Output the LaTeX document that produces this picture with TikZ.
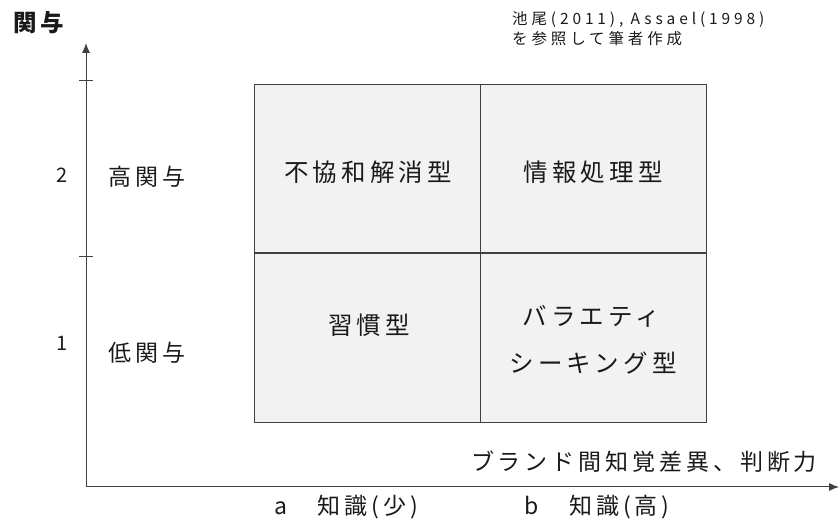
\documentclass[tikz,border=0pt]{standalone}
\usepackage{fontspec}
\setmainfont{Noto Sans CJK JP}
\newfontfamily\jpfont[LetterSpace=17]{Noto Sans CJK JP}
\newfontfamily\jpnote[LetterSpace=25]{Noto Sans CJK JP}
\usetikzlibrary{arrows.meta}
\definecolor{linegray}{HTML}{404040}
\definecolor{cellfill}{HTML}{F2F2F2}
\definecolor{textc}{HTML}{1A1A1A}
\begin{document}
\begin{tikzpicture}[x=1pt,y=-1pt,
  axis/.style={draw=linegray, line width=1pt, -{Latex[length=10pt,width=8pt]}},
  tick/.style={draw=linegray, line width=0.8pt},
  cell/.style={draw=linegray, fill=cellfill, line width=1pt, inner sep=0pt, anchor=north west},
  midline/.style={draw=linegray, line width=1.8pt},
  lbl/.style={font={\jpfont\fontsize{23}{27}\selectfont}, text=textc, inner sep=0pt},
  celltext/.style={font={\jpfont\fontsize{24.5}{28}\selectfont}, text=textc, inner sep=0pt},
  lblb/.style={font={\jpfont\bfseries\fontsize{23.5}{27}\selectfont}, text=textc, inner sep=0pt},
  num/.style={font={\jpfont\fontsize{20}{24}\selectfont}, text=textc, inner sep=0pt},
  note/.style={font={\jpnote\fontsize{15.5}{18}\selectfont}, text=textc, inner sep=0pt, anchor=west}]
\useasboundingbox (0,0) rectangle (839,521);
% grid cells
\node[cell, minimum width=226pt, minimum height=168.7pt] (c11) at (253.5,84) {};
\node[cell, minimum width=226.5pt, minimum height=168.7pt] (c12) at (479.5,84) {};
\node[cell, minimum width=226pt, minimum height=169pt] (c21) at (253.5,252.7) {};
\node[cell, minimum width=226.5pt, minimum height=169pt] (c22) at (479.5,252.7) {};
\draw[midline] (c21.north west) -- (c22.north east);
% cell texts
\node[celltext] (t11) at (368,172.7) {不協和解消型};
\node[celltext] (t12) at (593,172.7) {情報処理型};
\node[celltext] (t21) at (369,325) {習慣型};
\node[celltext] (t22a) at (591.5,316.7) {バラエティ};
\node[celltext] (t22b) at (593,363) {シーキング型};
% axes
\coordinate (O) at (86,487);
\coordinate (Ytip) at (86,43);
\coordinate (Xtip) at (839,487);
\draw[axis] (O) -- (Ytip);
\draw[axis] (O) -- (Xtip);
\coordinate (tk1a) at (79,80);
\coordinate (tk1b) at (93,80);
\coordinate (tk2a) at (79,256.7);
\coordinate (tk2b) at (93,256.7);
\draw[tick] (tk1a) -- (tk1b);
\draw[tick] (tk2a) -- (tk2b);
% axis labels
\node[lblb] (ylabel) at (39,23) {関与};
\node[num] (n2) at (62,175) {2};
\node[num] (n1) at (62,343) {1};
\node[lbl] (hi) at (147,177) {高関与};
\node[lbl] (lo) at (147,353) {低関与};
\node[lbl] (xlabel) at (644,462) {ブランド間知覚差異、判断力};
\node[lbl] (xa) at (346,507) {a　知識(少)};
\node[lbl] (xb) at (597,507) {b　知識(高)};
% source note
\node[note] (src1) at (512,19.7) {池尾(2011), Assael(1998)};
\node[note] (src2) at (512,38.3) {を参照して筆者作成};
\end{tikzpicture}
\end{document}
